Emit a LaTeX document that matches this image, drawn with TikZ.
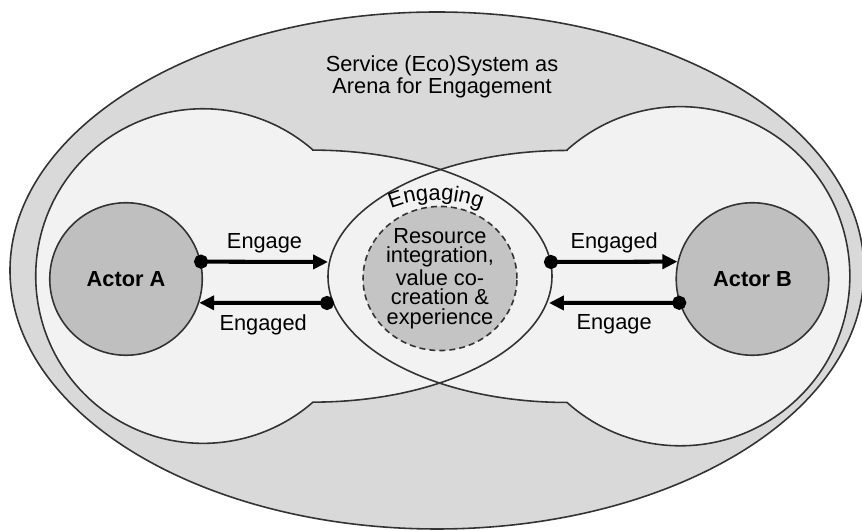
\documentclass[tikz,border=0pt]{standalone}
\usepackage{fontspec}
\setmainfont{Liberation Sans}
\usetikzlibrary{arrows.meta,decorations.text,shapes.geometric}
\newcommand\lensfont{\fontsize{12.4pt}{14pt}\selectfont}

\begin{document}
\begin{tikzpicture}[scale=0.2]
            \tikzstyle{every node}+=[inner sep=0pt, font=\fontsize{12.4pt}{10.8pt}\selectfont]
            \tikzstyle{rim}=[draw=black!80, line width=0.9pt]
            \tikzstyle{actor}=[circle, rim, fill=black!25, minimum size=86.8pt, font=\fontsize{12.4pt}{10.8pt}\selectfont\bfseries]
            \tikzstyle{flow}=[line width=2.3pt, shorten <=-4pt, {Circle[length=8pt]}-{Triangle[length=8.5pt,width=8pt]}]
            \useasboundingbox (0,0) rectangle (86.2,-53.1);
            \draw [rim, fill=black!15] (43.7,-27.05) ellipse [x radius=42.7, y radius=25.85];
            \fill [black!5] (31.3,-15.0) arc [start angle=48.9, end angle=311.1, radius=16.73] arc [start angle=-90, end angle=90, x radius=23.9, y radius=12.6] -- cycle;
            \fill [black!5] (56.7,-15.0) arc [start angle=131.9, end angle=-131.9, radius=16.96] arc [start angle=270, end angle=90, x radius=23.9, y radius=12.6] -- cycle;
            \draw [rim] (31.3,-15.0) arc [start angle=48.9, end angle=311.1, radius=16.73] arc [start angle=-90, end angle=90, x radius=23.9, y radius=12.6] -- cycle;
            \draw [rim] (56.7,-15.0) arc [start angle=131.9, end angle=-131.9, radius=16.96] arc [start angle=270, end angle=90, x radius=23.9, y radius=12.6] -- cycle;
            \node (title) [align=center] at (44.2,-7.65) {Service (Eco)System as\\Arena for Engagement};
            \node (actorA) [actor] at (12.6,-27.9) {Actor A};
            \node (actorB) [actor] at (75.25,-27.9) {Actor B};
            \node (core) [ellipse, rim, dash pattern=on 3.4pt off 2.3pt, fill=black!23, minimum width=87.6pt, minimum height=82pt, align=center, font=\fontsize{12.4pt}{11.1pt}\selectfont] at (44.0,-27.85) {Resource\\integration,\\value co-\\creation \&\\experience};
            \path [decorate, decoration={text along path, text align=center, text={|\lensfont|Engaging}}] (43.6,-32.0) ++(125:12) arc [start angle=125, end angle=55, radius=12];
            \coordinate (lensAin) at (32.8,-26.2);
            \coordinate (lensAout) at (32.7,-30.3);
            \coordinate (lensBout) at (55.1,-26.2);
            \coordinate (lensBin) at (54.9,-30.3);
            \draw [flow] (actorA.13) -- (lensAin) node [midway, above=4pt] (engageA) {Engage};
            \draw [flow] (lensAout) -- (actorA.-18) node [midway, below=5.5pt] (engagedA) {Engaged};
            \draw [flow] (lensBout) -- (actorB.167) node [midway, above=4pt] (engagedB) {Engaged};
            \draw [flow] (actorB.198) -- (lensBin) node [midway, below=5.5pt] (engageB) {Engage};
\end{tikzpicture}
\end{document}
